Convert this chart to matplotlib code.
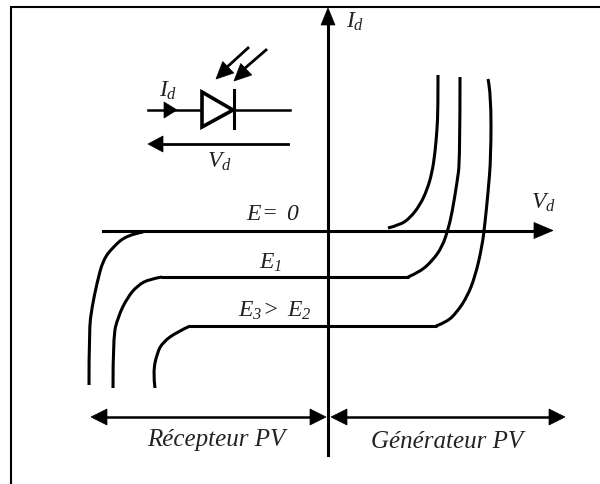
import matplotlib
matplotlib.use("Agg")
import matplotlib.pyplot as plt
from matplotlib.patches import Polygon, PathPatch
from matplotlib.path import Path

plt.rcParams['font.family'] = ['Liberation Serif', 'DejaVu Serif']
plt.rcParams['mathtext.fontset'] = 'custom'
plt.rcParams['mathtext.it'] = 'Liberation Serif:italic'
plt.rcParams['mathtext.rm'] = 'Liberation Serif:italic'

# courbes (x, y en pixels)
e0_right_x = [388, 400, 410, 420, 427, 432, 435, 437, 438, 438]
e0_right_y = [228, 225, 218, 205, 190, 173, 153, 130, 110, 75]
e1_right_x = [408, 420, 433, 442, 448, 452, 457, 460, 460]
e1_right_y = [277, 272, 260, 247, 230, 213, 183, 160, 77]
e3_right_x = [436, 447, 457, 467, 475, 482, 485, 488, 491, 491, 488]
e3_right_y = [326, 322, 312, 297, 277, 247, 223, 193, 157, 93, 79]
e0_left_x = [89, 89, 92, 97, 103, 113, 127, 143]
e0_left_y = [385, 330, 307, 283, 260, 247, 235, 232]
e1_left_x = [113, 113, 118, 127, 138, 150, 162]
e1_left_y = [388, 337, 317, 298, 285, 279, 277]
e3_left_x = [155, 153, 157, 163, 177, 190]
e3_left_y = [388, 373, 353, 342, 332, 326]

# paliers horizontaux (x debut, x fin, y)
e1_plateau = [162, 408, 277]
e3_plateau = [190, 436, 326]

curves = [
    (e0_right_x, e0_right_y),
    (e1_right_x, e1_right_y),
    (e3_right_x, e3_right_y),
    (e0_left_x, e0_left_y),
    (e1_left_x, e1_left_y),
    (e3_left_x, e3_left_y),
]

fig = plt.figure(figsize=(6, 4.84), dpi=100)
ax = fig.add_axes([0, 0, 1, 1])
ax.set_xlim(0, 600)
ax.set_ylim(484, 0)
ax.axis('off')

# cadre : seulement en haut et a gauche
ax.plot([10.5, 10.5, 600], [484, 6.5, 6.5], color='black', lw=1.5, solid_joinstyle='miter')


def smooth(xs, ys):
    # les points interieurs servent de points de controle
    verts = [(xs[0], ys[0])]
    codes = [Path.MOVETO]
    for i in range(1, len(xs) - 1):
        if i < len(xs) - 2:
            end = ((xs[i] + xs[i + 1]) / 2, (ys[i] + ys[i + 1]) / 2)
        else:
            end = (xs[i + 1], ys[i + 1])
        verts += [(xs[i], ys[i]), end]
        codes += [Path.CURVE3, Path.CURVE3]
    return Path(verts, codes)


for xs, ys in curves:
    ax.add_patch(PathPatch(smooth(xs, ys), fill=False, ec='black', lw=2.2, capstyle='butt'))

for x0, x1, y in (e1_plateau, e3_plateau):
    ax.plot([x0, x1], [y, y], color='black', lw=2.2, solid_capstyle='round')


def head(x, y, dx, dy, length=14, half=6):
    # pointe de fleche en (x, y), direction (dx, dy)
    nx, ny = -dy, dx
    pts = [(x, y),
           (x - dx * length + nx * half, y - dy * length + ny * half),
           (x - dx * length - nx * half, y - dy * length - ny * half)]
    ax.add_patch(Polygon(pts, closed=True, fc='black', ec='black', lw=0.5))


# axes
ax.plot([328, 328], [15, 455], color='black', lw=2.2)
head(328, 8, 0, -1, length=17, half=7)
ax.plot([103, 540], [230.5, 230.5], color='black', lw=2.2)
head(553, 230.5, 1, 0, length=19, half=8)

# domaines
ax.plot([100, 318], [417, 417], color='black', lw=1.8)
head(91, 417, -1, 0, length=16, half=8)
head(326, 417, 1, 0, length=16, half=8)
ax.plot([340, 555], [417, 417], color='black', lw=1.8)
head(331, 417, -1, 0, length=16, half=8)
head(565, 417, 1, 0, length=16, half=8)

# diode
ax.plot([148, 200], [110, 110], color='black', lw=1.8)
ax.plot([233, 290], [110, 110], color='black', lw=1.8)
head(177, 110, 1, 0, length=13, half=8)
ax.add_patch(Polygon([(202, 92), (202, 127), (233, 110)], closed=True, fc='white', ec='black', lw=2.6))
ax.plot([233.5, 233.5], [90, 128], color='black', lw=2.2)
ax.plot([158, 288], [144, 144], color='black', lw=2)
head(148, 144, -1, 0, length=15, half=8)

# rayons
ax.plot([248, 226], [48, 68], color='black', lw=2)
head(216, 79, -0.72, 0.69, length=17, half=8)
ax.plot([266, 244], [50, 69], color='black', lw=2)
head(234, 81, -0.72, 0.69, length=17, half=8)

# textes
tc = '#222222'
ax.text(346, 22, r'$I_d$', fontsize=17, color=tc, ha='left', va='center')
ax.text(168, 91, r'$I_d$', fontsize=17, color=tc, ha='center', va='center')
ax.text(219, 162, r'$V_d$', fontsize=17, color=tc, ha='center', va='center')
ax.text(543, 203, r'$V_d$', fontsize=17, color=tc, ha='center', va='center')
ax.text(273, 215, r'$E\!=\ 0$', fontsize=17, color=tc, ha='center', va='center')
ax.text(271, 263, r'$E_1$', fontsize=17, color=tc, ha='center', va='center')
ax.text(275, 311, r'$E_3\!>\ E_2$', fontsize=17, color=tc, ha='center', va='center')
ax.text(216, 440, 'Récepteur PV', fontsize=18, style='italic', color=tc, ha='center', va='center')
ax.text(447, 442, 'Générateur PV', fontsize=18, style='italic', color=tc, ha='center', va='center')

fig.savefig('out.png', dpi=100)
